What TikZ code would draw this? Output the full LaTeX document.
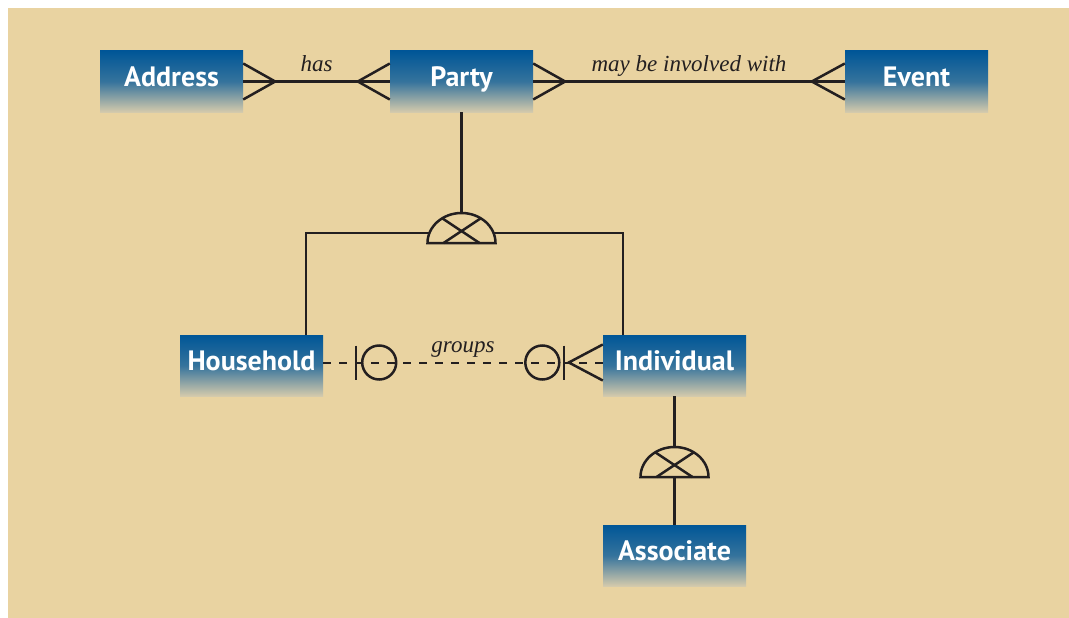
\documentclass[tikz,border=0pt]{standalone}
\usepackage{fontspec}
\setmainfont{Liberation Serif}
\newfontfamily\entfont{PT Sans}
\usetikzlibrary{positioning,calc}
\definecolor{paper}{RGB}{233,211,161}
\definecolor{entblue}{RGB}{0,86,151}
\definecolor{entfade}{RGB}{212,202,172}
\definecolor{ink}{RGB}{35,31,32}
\tikzset{
    entity/.style={rectangle, minimum width=143pt, minimum height=61pt, inner sep=0pt, text height=20pt, text depth=10pt, top color=entblue, bottom color=entfade, middle color=entblue!75!entfade, text=white, font=\entfont\bfseries\fontsize{28}{30}\selectfont},
    rel/.style={midway, anchor=base, yshift=10pt, inner sep=0pt, text=ink, font=\itshape\fontsize{23}{26}\selectfont},
    conn/.style={draw=ink, line width=2.5pt},
    opt/.style={draw=ink, line width=2pt, dash pattern=on 8pt off 8pt}
}
\begin{document}
\begin{tikzpicture}[x=1pt, y=-1pt]
    \useasboundingbox (0,0) rectangle (1069,618);
    \fill[paper] (8,8) rectangle (1069,618);

    % Entities
    \node[entity] (addr) at (171.5,81.5) {Address};
    \node[entity] (party) at (461.5,81.5) {Party};
    \node[entity] (event) at (916.5,81.5) {Event};
    \node[entity] (hh) at (251.5,365.5) {Household};
    \node[entity] (ind) at (674.5,365.5) {Individual};
    \node[entity] (assoc) at (674.5,555.5) {Associate};

    % has
    \draw[conn] (addr) -- node[rel] {has} (party);
    \draw[conn] ([yshift=18pt]addr.east) -- ([xshift=32pt]addr.east) -- ([yshift=-18pt]addr.east);
    \draw[conn] ([yshift=18pt]party.west) -- ([xshift=-32pt]party.west) -- ([yshift=-18pt]party.west);

    % may be involved with
    \draw[conn] (party) -- node[rel] {may be involved with} (event);
    \draw[conn] ([yshift=18pt]party.east) -- ([xshift=32pt]party.east) -- ([yshift=-18pt]party.east);
    \draw[conn] ([yshift=18pt]event.west) -- ([xshift=-33pt]event.west) -- ([yshift=-18pt]event.west);

    % Party subtypes
    \coordinate (gen1) at (461.5,243);
    \draw[conn] (party) -- ($(gen1)+(0,-30)$);
    \draw[conn] ($(gen1)+(-34,0)$) arc[start angle=180, end angle=0, x radius=34pt, y radius=30pt] -- cycle;
    \draw[conn] ($(gen1)+(-18,0)$) -- ($(gen1)+(19,-24.5)$);
    \draw[conn] ($(gen1)+(18,0)$) -- ($(gen1)+(-19,-24.5)$);
    \draw[conn] ([xshift=54.5pt]hh.north) |- ($(gen1)+(-32,-10)$);
    \draw[conn] ([xshift=-51.5pt]ind.north) |- ($(gen1)+(32,-10)$);

    % groups
    \coordinate (hhport) at ([yshift=3pt]hh.east);
    \coordinate (indport) at ([yshift=3pt]ind.west);
    \draw[opt] (hhport) -- node[rel] {groups} (indport);
    \draw[conn] ([xshift=33pt,yshift=17pt]hhport) -- ([xshift=33pt,yshift=-17pt]hhport);
    \draw[conn] ([xshift=56pt]hhport) circle[radius=17pt];
    \draw[conn] ([xshift=-60.5pt]indport) circle[radius=17pt];
    \draw[conn] ([xshift=-39pt,yshift=17pt]indport) -- ([xshift=-39pt,yshift=-17pt]indport);
    \draw[conn] ([yshift=18pt]indport) -- ([xshift=-34pt]indport) -- ([yshift=-18pt]indport);

    % Individual subtype
    \coordinate (gen2) at (674.5,477);
    \draw[conn] (ind) -- ($(gen2)+(0,-30)$);
    \draw[conn] ($(gen2)+(-34,0)$) arc[start angle=180, end angle=0, x radius=34pt, y radius=30pt] -- cycle;
    \draw[conn] ($(gen2)+(-18,0)$) -- ($(gen2)+(19,-24.5)$);
    \draw[conn] ($(gen2)+(18,0)$) -- ($(gen2)+(-19,-24.5)$);
    \draw[conn] (gen2) -- (assoc);
\end{tikzpicture}
\end{document}
